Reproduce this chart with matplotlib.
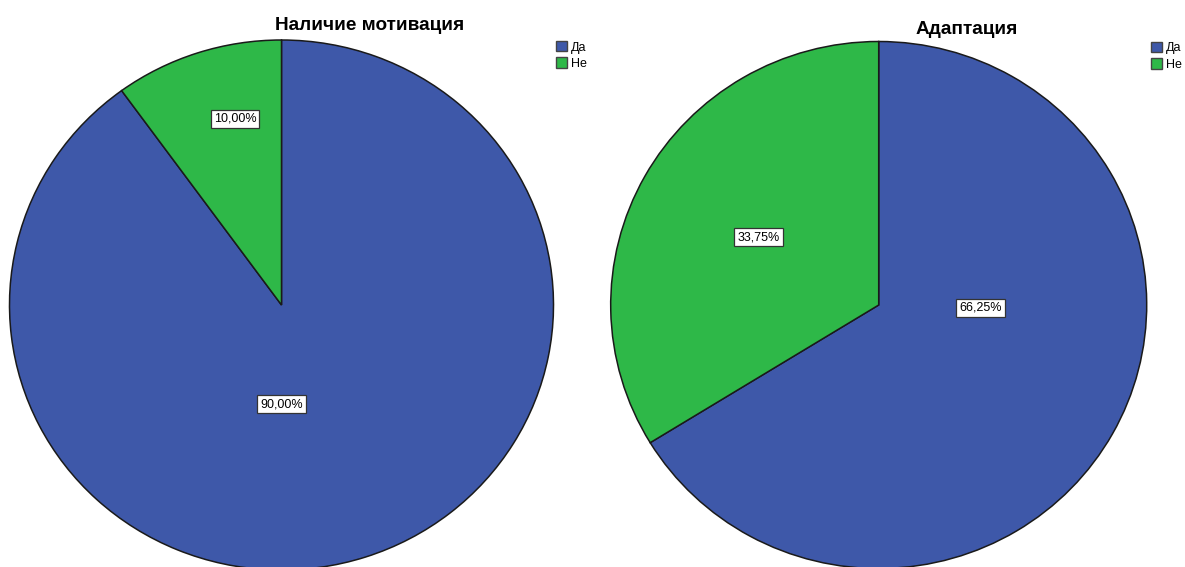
import matplotlib
matplotlib.use("Agg")
import matplotlib.pyplot as plt
from matplotlib.patches import Patch

W, H = 1185, 567
DPI = 100

categories = ["Да", "Не"]
motivation = [90.00, 10.00]
adaptation = [66.25, 33.75]
titles = ["Наличие мотивация", "Адаптация"]
colors = ["#3E58A9", "#2EB848"]

plt.rcParams['font.family'] = ['Liberation Sans', 'DejaVu Sans']

fig = plt.figure(figsize=(W / DPI, H / DPI), dpi=DPI)

# pie geometry in pixels: (cx, cy, rx, ry)
geoms = [(281.5, 305, 272, 265), (878.7, 305, 268, 263.5)]
# label positions inside unit circle (SPSS-style placement)
label_pos = [[(0.0, -0.374), (-0.171, 0.702)],
             [(0.381, -0.011), (-0.448, 0.258)]]
title_pos = [(370, 26), (967, 29)]
legend_pos = [(556, 41), (1151, 42)]

for i, vals in enumerate([motivation, adaptation]):
    cx, cy, rx, ry = geoms[i]
    ax = fig.add_axes([(cx - rx) / W, (H - cy - ry) / H, 2 * rx / W, 2 * ry / H])
    wedges, texts, autotexts = ax.pie(
        vals, colors=colors, startangle=90, counterclock=False,
        autopct=lambda p: f"{p:.2f}%".replace(".", ","),
        wedgeprops=dict(edgecolor="#1a1a1a", linewidth=1.1),
        textprops=dict(fontsize=9, color="black"))
    ax.set_aspect('auto')
    ax.set_xlim(-1, 1)
    ax.set_ylim(-1, 1)
    ax.axis('off')
    for t, (x, y) in zip(autotexts, label_pos[i]):
        t.set_position((x, y))
        t.set_ha('center')
        t.set_va('center')
        t.set_bbox(dict(boxstyle="square,pad=0.25", facecolor="white",
                        edgecolor="#333333", linewidth=0.9))
    tx, ty = title_pos[i]
    fig.text(tx / W, 1 - ty / H, titles[i], ha='center', va='center',
             fontsize=13.7, fontweight='bold')
    lx, ly = legend_pos[i]
    handles = [Patch(facecolor=c, edgecolor="#444444", linewidth=1.0) for c in colors]
    fig.legend(handles, categories, loc='upper left',
               bbox_to_anchor=(lx / W, 1 - ly / H), frameon=False,
               fontsize=9, handlelength=0.9, handleheight=0.9,
               handletextpad=0.3, labelspacing=0.3, borderpad=0,
               borderaxespad=0)

fig.savefig("out.png", dpi=DPI)
